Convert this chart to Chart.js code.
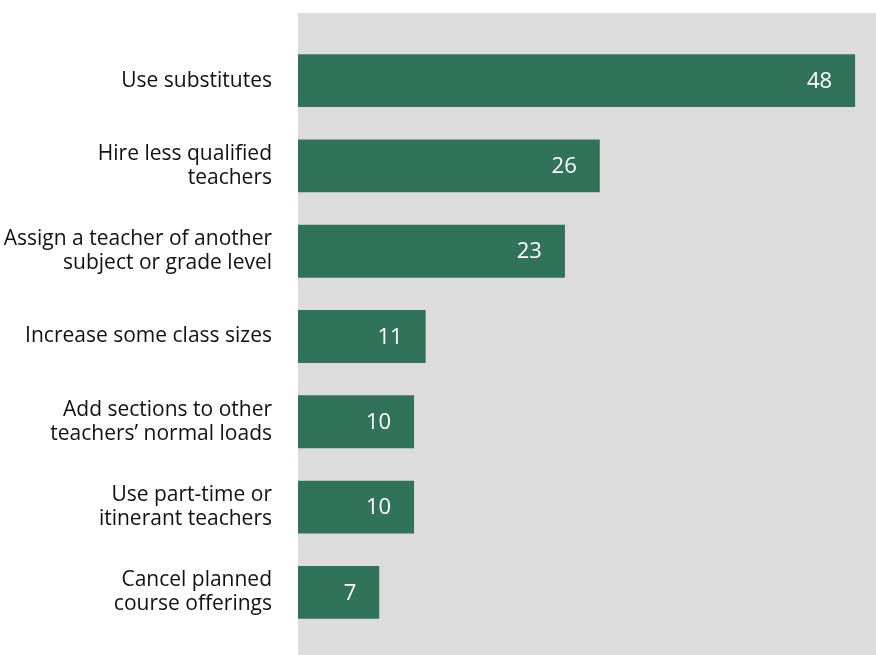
<!DOCTYPE html>
<html>
<head>
<meta charset="utf-8">
<script src="https://cdn.jsdelivr.net/npm/chart.js@4"></script>
<style>
html,body{margin:0;padding:0;background:#fff;}
#wrap{width:876px;height:655px;position:relative;}
</style>
</head>
<body>
<div id="wrap"><canvas id="c" width="876" height="655"></canvas></div>
<script>
const categories = [
  "Use substitutes",
  ["Hire less qualified", "teachers"],
  ["Assign a teacher of another", "subject or grade level"],
  "Increase some class sizes",
  ["Add sections to other", "teachers\u2019 normal loads"],
  ["Use part-time or", "itinerant teachers"],
  ["Cancel planned", "course offerings"]
];
const values = [48, 26, 23, 11, 10, 10, 7];
const xMax = 49.8;

const FONT = "'Open Sans', Lato, sans-serif";

const bgPlugin = {
  id: 'bg',
  beforeDraw(chart) {
    const {ctx, chartArea} = chart;
    ctx.save();
    ctx.fillStyle = '#dcdcdc';
    ctx.fillRect(chartArea.left, chartArea.top - 25, chartArea.right - chartArea.left, chartArea.bottom - chartArea.top + 45);
    ctx.restore();
  }
};

const labelPlugin = {
  id: 'vals',
  afterDatasetsDraw(chart) {
    const {ctx} = chart;
    const meta = chart.getDatasetMeta(0);
    ctx.save();
    ctx.fillStyle = '#ffffff';
    ctx.font = "22px " + FONT;
    ctx.textAlign = 'right';
    ctx.textBaseline = 'middle';
    meta.data.forEach((el, i) => {
      ctx.fillText(String(values[i]), el.x - 23, el.y + 1);
    });
    ctx.restore();
  }
};

new Chart(document.getElementById('c'), {
  type: 'bar',
  data: {
    labels: categories,
    datasets: [{
      data: values,
      backgroundColor: '#31735a',
      borderWidth: 0,
      categoryPercentage: 1,
      barPercentage: 0.62
    }]
  },
  options: {
    indexAxis: 'y',
    responsive: false,
    animation: false,
    devicePixelRatio: 1,
    layout: { padding: { top: 38, bottom: 20, left: 0, right: 0 } },
    plugins: { legend: { display: false }, tooltip: { enabled: false } },
    scales: {
      x: {
        min: 0, max: xMax,
        display: false
      },
      y: {
        grid: { display: false, drawTicks: false },
        border: { display: false },
        afterFit(scale) { scale.width = 298; scale.paddingTop = 0; scale.paddingBottom = 0; },
        ticks: {
          color: '#111111',
          padding: 26,
          font: { family: FONT, size: 21, lineHeight: 1.15 }
        }
      }
    }
  },
  plugins: [bgPlugin, labelPlugin]
});
</script>
</body>
</html>
